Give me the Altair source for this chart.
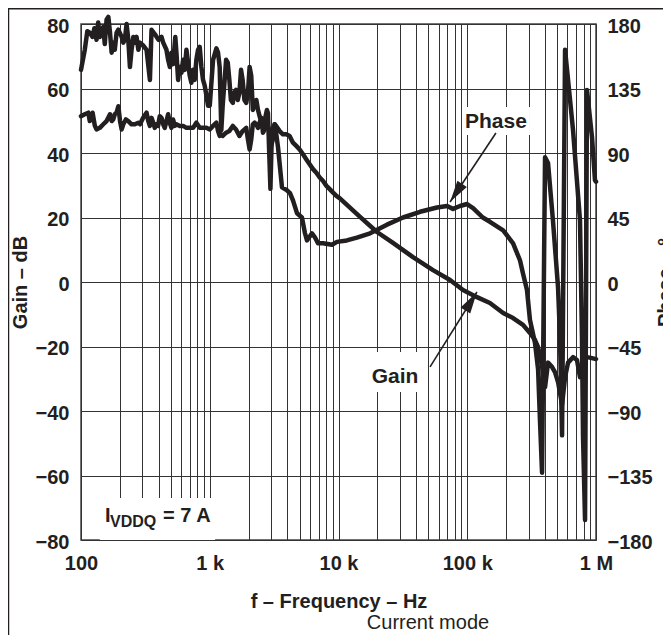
import altair as alt
import pandas as pd

FONT = "Liberation Sans"
INK = "#231f20"

# ---------------- data ----------------
gain_freq = [100, 107, 114, 117, 123, 128, 132, 140, 149, 158, 168, 173, 178, 183, 189, 195,
             201, 207, 213, 223, 233, 247, 262, 279, 287, 304, 323, 333, 343, 353, 364, 374,
             385, 397, 409, 422, 435, 447, 461, 475, 489, 504, 519, 535, 551, 585, 621, 659,
             699, 742, 787, 836, 887, 942, 1000, 1061, 1126, 1160, 1194, 1230, 1260, 1340,
             1420, 1510, 1600, 1700, 1800, 1920, 1980, 2040, 2100, 2160, 2230, 2300, 2370,
             2440, 2520, 2590, 2670, 2750, 2830, 2920, 3000, 3090, 3180, 3280, 3490, 3700,
             3930, 4170, 4430, 4700, 4990, 5300, 5630, 5970, 6340, 6730, 7150, 7590, 8060,
             8550, 9080, 9630, 10200, 14700, 19900, 26500, 37900, 54200, 73500, 92700,
             119000, 150000, 190000, 227000, 271000, 307000, 336000, 355000, 381000, 402000,
             424000, 455000, 481000, 507000, 545000, 575000, 607000, 663000, 712000, 751000,
             778000, 793000, 851000, 931000, 1000000]
gain_db = [51.4, 52.0, 52.5, 49.9, 52.5, 48.5, 47.3, 47.8, 48.9, 49.9, 52.0, 49.9, 50.4, 52.0,
           52.5, 54.5, 49.9, 47.3, 48.9, 50.4, 49.9, 48.9, 48.9, 49.4, 48.9, 50.9, 52.5, 49.9,
           48.4, 50.9, 49.4, 47.8, 48.9, 48.4, 51.4, 50.9, 48.9, 47.8, 49.9, 52.0, 49.4, 47.8,
           50.4, 48.4, 48.9, 48.4, 48.4, 47.8, 47.8, 47.8, 49.4, 47.8, 47.8, 47.8, 47.3, 48.4,
           49.4, 46.8, 45.3, 45.8, 45.3, 46.3, 46.8, 48.4, 47.3, 45.3, 46.8, 47.8, 44.2, 41.1,
           44.2, 48.9, 49.4, 48.9, 47.8, 49.4, 50.9, 46.3, 47.3, 50.4, 48.4, 46.3, 42.2, 44.2,
           48.9, 48.4, 46.8, 45.8, 45.8, 45.3, 43.2, 42.2, 41.1, 39.6, 38.0, 36.5, 35.0, 33.9,
           32.4, 31.3, 29.8, 28.8, 27.7, 26.7, 26.0, 20.2, 15.5, 12.1, 7.7, 3.7, 0.6, -2.5,
           -4.7, -6.5, -9.6, -11.2, -13.3, -15.8, -18.0, -20.2, -26.0, -32.6, -25.0, -26.3,
           -28.0, -31.0, -38.0, -29.5, -25.0, -23.3, -24.2, -29.5, -26.3, -24.0, -23.3, -23.6,
           -23.9]

phase_freq = [100, 107, 112, 117, 123, 127, 132, 136, 140, 145, 149, 153, 158, 163, 168, 173,
              178, 183, 189, 195, 207, 213, 219, 226, 233, 240, 247, 255, 262, 270, 279, 287,
              304, 323, 343, 353, 374, 400, 422, 435, 461, 475, 490, 504, 519, 540, 551, 568,
              585, 603, 621, 639, 659, 679, 699, 720, 742, 764, 787, 811, 836, 861, 887, 914,
              942, 970, 1000, 1061, 1126, 1160, 1194, 1230, 1260, 1300, 1340, 1380, 1420, 1460,
              1510, 1550, 1600, 1650, 1700, 1750, 1800, 1860, 1920, 1980, 2040, 2100, 2160,
              2300, 2370, 2450, 2600, 2780, 2830, 2960, 3040, 3210, 3390, 3640, 3980, 4200,
              4430, 4760, 5200, 5490, 5690, 6220, 6570, 6930, 7580, 8900, 9730, 11600, 13900,
              17600, 23800, 31700, 43000, 58200, 69700, 77500, 87900, 99600, 111000, 132000,
              150000, 190000, 227000, 257000, 271000, 291000, 307000, 336000, 355000, 367000,
              381000, 402000, 424000, 463000, 507000, 525000, 545000, 575000, 596000, 663000,
              751000, 778000, 793000, 822000, 851000, 931000, 982000, 1000000]
phase_deg = [148, 162, 175, 174, 171, 177, 169, 181, 171, 175, 178, 166, 183, 185, 174, 160,
             167, 162, 174, 176, 171, 167, 169, 180, 169, 150, 162, 171, 167, 171, 162, 167,
             165, 162, 141, 176, 173, 169, 171, 167, 162, 155, 150, 160, 152, 171, 160, 141,
             150, 146, 155, 148, 162, 153, 144, 139, 148, 141, 155, 162, 164, 150, 141, 137,
             130, 123, 123, 155, 163, 160, 150, 106, 123, 139, 155, 153, 141, 127,
             125, 132, 134, 127, 132, 148, 141, 127, 125, 132, 150, 144, 120,
             127, 120, 115, 108, 120, 118, 65, 106, 110, 94, 66, 64, 62,
             57, 48, 45, 34, 29, 34, 31, 27, 27, 26, 28, 29, 31,
             34, 40, 45, 49, 52, 53, 51, 53, 54.4, 51.6, 45,
             42, 36, 27, 15, 6, -5.6, -26.5, -42.6, -61, -96,
             -133, 87, 83, 43, -3.5, -38, -107, 162, 148, 106,
             43, -38, -108, -166, 134, 101, 71, 70]

x_grid_values = [m * 10 ** e for e in range(2, 6) for m in range(1, 10)] + [1000000]
x_label_values = [100, 1000, 10000, 100000, 1000000]
x_label_text = ["100", "1 k", "10 k", "100 k", "1 M"]
gain_ticks = [-80, -60, -40, -20, 0, 20, 40, 60, 80]
phase_ticks = [-180, -135, -90, -45, 0, 45, 90, 135, 180]

# annotations (positions in data units: Hz, dB)
ann_text = ["Phase", "Gain"]
ann_freq = [167000, 27500]
ann_db = [49.5, -29.5]

box_f1 = [91000, 16100, 140]
box_f2 = [307000, 49500, 1100]
box_d1 = [45.6, -34.1, -80]
box_d2 = [54.3, -21.7, -67]

arrow_f_tail = [167000, 51400]
arrow_d_tail = [46.2, -26.3]
arrow_f_tip = [73500, 119000]
arrow_d_tip = [24.8, -3.1]
arrow_angle = [213.7, 32]

# ---------------- frames ----------------
gain_df = pd.DataFrame({"f": gain_freq, "v": gain_db})
phase_df = pd.DataFrame({"f": phase_freq, "v": phase_deg})
ann_df = pd.DataFrame({"t": ann_text, "f": ann_freq, "v": ann_db})
box_df = pd.DataFrame({"f1": box_f1, "f2": box_f2, "d1": box_d1, "d2": box_d2})
arrow_df = pd.DataFrame({"ft": arrow_f_tail, "dt": arrow_d_tail,
                         "fh": arrow_f_tip, "dh": arrow_d_tip, "a": arrow_angle})
one = pd.DataFrame({"k": [0]})

xscale = alt.Scale(type="log", domain=[100, 1000000], nice=False)
gscale = alt.Scale(domain=[-80, 80], nice=False, zero=False)
pscale = alt.Scale(domain=[-180, 180], nice=False, zero=False)

label_expr = " : ".join(
    f"datum.value == {v} ? '{t}'" for v, t in zip(x_label_values, x_label_text)
) + " : ''"

x_axis = alt.Axis(
    values=x_grid_values, labelExpr=label_expr, grid=True, gridColor="#333",
    gridWidth=1, gridOpacity=1, ticks=False, tickSize=0, domain=False,
    labelFont=FONT, labelFontSize=20, labelFontWeight="bold", labelColor=INK,
    labelPadding=13, labelFlush=False, labelOverlap=False, labelBaseline="top",
    title="f – Frequency – Hz", titleFont=FONT, titleFontSize=20, titleFontWeight="bold",
    titleColor=INK, titleY=67, titleBaseline="alphabetic",
)
g_axis = alt.Axis(
    values=gain_ticks, grid=True, gridColor="#333", gridWidth=1, gridOpacity=1,
    ticks=False, tickSize=0, domain=False,
    labelFont=FONT, labelFontSize=20, labelFontWeight="bold", labelColor=INK,
    labelPadding=12, labelOffset=2, labelFlush=False,
    title="Gain – dB", titleFont=FONT, titleFontSize=20, titleFontWeight="bold",
    titleColor=INK, titleAngle=270, titleX=-55, titleY=258, titleAlign="center",
    titleBaseline="alphabetic",
)
p_axis = alt.Axis(
    values=phase_ticks, orient="right", grid=False, ticks=False, tickSize=0, domain=False,
    labelFont=FONT, labelFontSize=20, labelFontWeight="bold", labelColor=INK,
    labelPadding=11, labelOffset=2, labelFlush=False,
    title="Phase – °", titleFont=FONT, titleFontSize=20, titleFontWeight="bold",
    titleColor=INK, titleAngle=270, titleX=75, titleY=258, titleAlign="center",
    titleBaseline="alphabetic",
)


def gx(field):
    return alt.X(field, type="quantitative", scale=xscale, axis=x_axis)


def gy(field):
    return alt.Y(field, type="quantitative", scale=gscale, axis=g_axis)


boxes = alt.Chart(box_df).mark_rect(fill="white", stroke=None).encode(
    x=gx("f1"), x2="f2:Q", y=gy("d1"), y2="d2:Q",
)

gain_line = alt.Chart(gain_df).mark_line(
    color=INK, strokeWidth=4.5, strokeJoin="round", strokeCap="round"
).encode(x=gx("f"), y=gy("v"))

labels = alt.Chart(ann_df).mark_text(
    font=FONT, fontSize=21, fontWeight="bold", color=INK, align="center", baseline="middle"
).encode(x=gx("f"), y=gy("v"), text="t:N")

shafts = alt.Chart(arrow_df).mark_rule(color=INK, strokeWidth=1.6).encode(
    x=gx("ft"), x2="fh:Q", y=gy("dt"), y2="dh:Q",
)
heads = alt.Chart(arrow_df).mark_point(
    shape="M0,0 L-0.26,1 L0.26,1 Z", filled=True, fill=INK, stroke=None,
    size=1900, opacity=1,
).encode(x=gx("fh"), y=gy("dh"), angle=alt.Angle("a:Q", scale=None))


def sub_text(txt, size, fx, dy):
    return alt.Chart(one).mark_text(
        text=txt, font=FONT, fontSize=size, fontWeight="bold", color=INK,
        align="left", baseline="alphabetic",
    ).encode(x=gx("x"), y=gy("y")).transform_calculate(x=str(fx), y=str(dy))


i_main = sub_text("I", 20, 153.6, -74.4)
i_sub = sub_text("VDDQ", 16, 168, -75.9)
i_rest = sub_text("= 7 A", 20, 434, -74.4)

caption = alt.Chart(one).mark_text(
    text="Current mode", font=FONT, fontSize=20, color=INK, align="center",
    baseline="alphabetic",
).encode(x=alt.value(347), y=alt.value(605))

frame_left = alt.Chart(one).mark_rule(color=INK, strokeWidth=1.5).encode(
    x=alt.value(-72.5), y=alt.value(-16), y2=alt.value(611))
frame_top = alt.Chart(one).mark_rule(color=INK, strokeWidth=1.5).encode(
    x=alt.value(-73), x2=alt.value(590), y=alt.value(-15.3))

gain_group = alt.layer(boxes, gain_line, labels, shafts, heads, i_main, i_sub, i_rest,
                       caption, frame_left, frame_top)

phase_line = alt.Chart(phase_df).mark_line(
    color=INK, strokeWidth=4.5, strokeJoin="round", strokeCap="round"
).encode(
    x=gx("f"),
    y=alt.Y("v:Q", scale=pscale, axis=p_axis),
)

chart = alt.layer(gain_group, phase_line).resolve_scale(y="independent").properties(
    width=515, height=516,
    autosize=alt.AutoSizeParams(type="none"),
    padding={"left": 73, "top": 16, "right": 67, "bottom": 95},
    background="white",
).configure_view(stroke="#444", strokeWidth=1.5)

chart.save("out.html", embed_options={"renderer": "svg", "actions": False})
